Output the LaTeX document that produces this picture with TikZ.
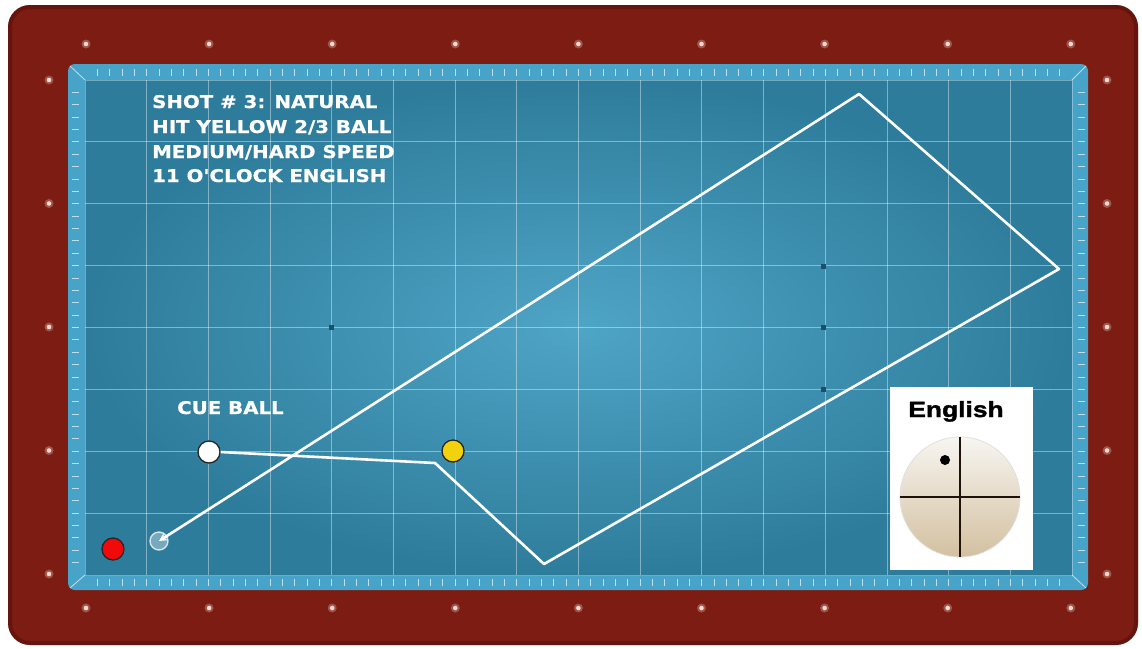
\documentclass[tikz,border=0pt]{standalone}
\usepackage{fontspec}
\usetikzlibrary{calc,arrows.meta}
\newfontfamily\mesafont{DejaVu Sans}[FakeStretch=1.13, BoldFeatures={FakeBold=0.6}]
\newfontfamily\caixafont{Liberation Sans}[FakeStretch=1.2, BoldFeatures={FakeBold=1.6}]
\definecolor{sinucaMadeira}{HTML}{7C1C12}
\definecolor{sinucaMadeiraEscura}{HTML}{4A0D08}
\definecolor{sinucaTabela}{HTML}{47A4C8}
\definecolor{sinucaPanoClaro}{HTML}{4FA5C6}
\definecolor{sinucaPanoEscuro}{HTML}{2E7C9B}
\definecolor{sinucaMarca}{HTML}{1D4F69}
\definecolor{sinucaDiamante}{HTML}{F6D9D0}
\definecolor{sinucaVermelha}{HTML}{F00A0A}
\definecolor{sinucaAmarela}{HTML}{F2D20C}
\definecolor{sinucaMarfimClaro}{HTML}{F7F5F1}
\definecolor{sinucaMarfimEscuro}{HTML}{D3C0A0}

\begin{document}
\begin{tikzpicture}[
    x=1pt, y=-1pt,
    sinuca grade/.style={draw=white, opacity=0.4, line width=0.8pt},
    sinuca tique/.style={draw=white, opacity=0.65, line width=0.8pt},
    sinuca diamante/.style={fill=sinucaDiamante},
    sinuca bola/.style={circle, draw=black!85, line width=1.3pt, minimum size=22pt, inner sep=0pt},
    sinuca trajeto/.style={draw=white, line width=2.6pt, line join=round},
    sinuca texto/.style={text=white, font=\mesafont\bfseries\fontsize{17.5}{20}\selectfont, inner sep=0pt, anchor=base west},
]
  \useasboundingbox[fill=white] (0,0) rectangle (1142,648);

  % Moldura de madeira.
  \fill[sinucaMadeira, rounded corners=22pt] (8,5) rectangle (1138,645);
  \draw[sinucaMadeiraEscura, line width=4pt, opacity=0.45, rounded corners=20pt] (10,7) rectangle (1136,643);

  % Diamantes.
  \foreach \i in {0,...,8} {
    \fill[sinuca diamante, opacity=0.3] ({86+\i*123.1},44) circle[radius=4.5pt];
    \fill[sinuca diamante] ({86+\i*123.1},44) circle[radius=2.3pt];
    \fill[sinuca diamante, opacity=0.3] ({86+\i*123.1},608) circle[radius=4.5pt];
    \fill[sinuca diamante] ({86+\i*123.1},608) circle[radius=2.3pt];
  }
  \foreach \j in {0,...,4} {
    \fill[sinuca diamante, opacity=0.3] (49,{80+\j*123.5}) circle[radius=4.5pt];
    \fill[sinuca diamante] (49,{80+\j*123.5}) circle[radius=2.3pt];
    \fill[sinuca diamante, opacity=0.3] (1107,{80+\j*123.5}) circle[radius=4.5pt];
    \fill[sinuca diamante] (1107,{80+\j*123.5}) circle[radius=2.3pt];
  }

  % Tabelas e pano.
  \fill[sinucaTabela, rounded corners=7pt] (68,64) rectangle (1088,590);
  \shade[inner color=sinucaPanoClaro, outer color=sinucaPanoEscuro] (85,80) rectangle (1072,575);
  \draw[white, opacity=0.35, line width=0.8pt] (85,80) rectangle (1072,575);
  \draw[sinuca tique] (70,66) -- (85,80);
  \draw[sinuca tique] (1086,66) -- (1072,80);
  \draw[sinuca tique] (70,588) -- (85,575);
  \draw[sinuca tique] (1086,588) -- (1072,575);
  \foreach \i in {1,...,79} {
    \draw[sinuca tique] ({85+\i*12.3375},69) -- ++(0,7);
    \draw[sinuca tique] ({85+\i*12.3375},579) -- ++(0,7);
  }
  \foreach \j in {1,...,39} {
    \draw[sinuca tique] (72,{80+\j*12.375}) -- ++(7,0);
    \draw[sinuca tique] (1078,{80+\j*12.375}) -- ++(7,0);
  }

  % Grade.
  \foreach \i in {1,...,15}
    \draw[sinuca grade] ({85+\i*61.6875},80) -- ({85+\i*61.6875},575);
  \foreach \j in {1,...,7}
    \draw[sinuca grade] (85,{80+\j*61.875}) -- (1072,{80+\j*61.875});

  % Marcas.
  \coordinate (marca-1) at (331,327);
  \coordinate (marca-2) at (823,266);
  \coordinate (marca-3) at (823,327);
  \coordinate (marca-4) at (823,389);
  \fill[sinucaMarca] ($(marca-1)+(-2.5,-2.5)$) rectangle ($(marca-1)+(2.5,2.5)$);
  \fill[sinucaMarca] ($(marca-2)+(-2.5,-2.5)$) rectangle ($(marca-2)+(2.5,2.5)$);
  \fill[sinucaMarca] ($(marca-3)+(-2.5,-2.5)$) rectangle ($(marca-3)+(2.5,2.5)$);
  \fill[sinucaMarca] ($(marca-4)+(-2.5,-2.5)$) rectangle ($(marca-4)+(2.5,2.5)$);

  % Textos.
  \node[sinuca texto] (texto-tacada) at (152,108) {SHOT \# 3: NATURAL};
  \node[sinuca texto] (texto-bola) at (152,133) {HIT YELLOW 2/3 BALL};
  \node[sinuca texto] (texto-velocidade) at (152,158) {MEDIUM/HARD SPEED};
  \node[sinuca texto] (texto-efeito) at (152,182) {11 O'CLOCK ENGLISH};
  \node[sinuca texto] (texto-branca) at (177,414) {CUE BALL};

  % Bolas.
  \node[sinuca bola, fill=sinucaVermelha] (bola-vermelha) at (113,549) {};
  \node[sinuca bola, fill=white] (bola-branca) at (209,452) {};
  \node[sinuca bola, fill=sinucaAmarela] (bola-amarela) at (453,451) {};
  \node[circle, draw=white, draw opacity=0.75, fill=white, fill opacity=0.35, line width=1.4pt, minimum size=18pt, inner sep=0pt] (bola-fantasma) at (159,541) {};

  % Trajeto.
  \coordinate (tabela-1) at (435,463);
  \coordinate (tabela-2) at (544,564);
  \coordinate (tabela-3) at (1059,269);
  \coordinate (tabela-4) at (859,94);
  \draw[sinuca trajeto, -{Stealth[length=8pt, width=8pt]}] (bola-branca.east) -- (tabela-1) -- (tabela-2) -- (tabela-3) -- (tabela-4) -- (bola-fantasma.center);

  % Efeito.
  \node[fill=white, minimum width=143pt, minimum height=183pt, inner sep=0pt] (caixa-efeito) at (961.5,478.5) {};
  \node[font=\caixafont\bfseries\fontsize{22}{24}\selectfont, inner sep=0pt, anchor=base] (texto-english) at (956,417) {English};
  \node[circle, minimum size=120pt, inner sep=0pt, top color=sinucaMarfimClaro, bottom color=sinucaMarfimEscuro, draw=black!12, line width=0.8pt] (bola-efeito) at (960,497) {};
  \draw[black!85!brown, line width=1.3pt] (bola-efeito.north) -- (bola-efeito.south);
  \draw[black!85!brown, line width=1.3pt] (bola-efeito.west) -- (bola-efeito.east);
  \node[circle, fill=black, minimum size=10pt, inner sep=0pt] (ponto-efeito) at (945,460) {};
\end{tikzpicture}
\end{document}
